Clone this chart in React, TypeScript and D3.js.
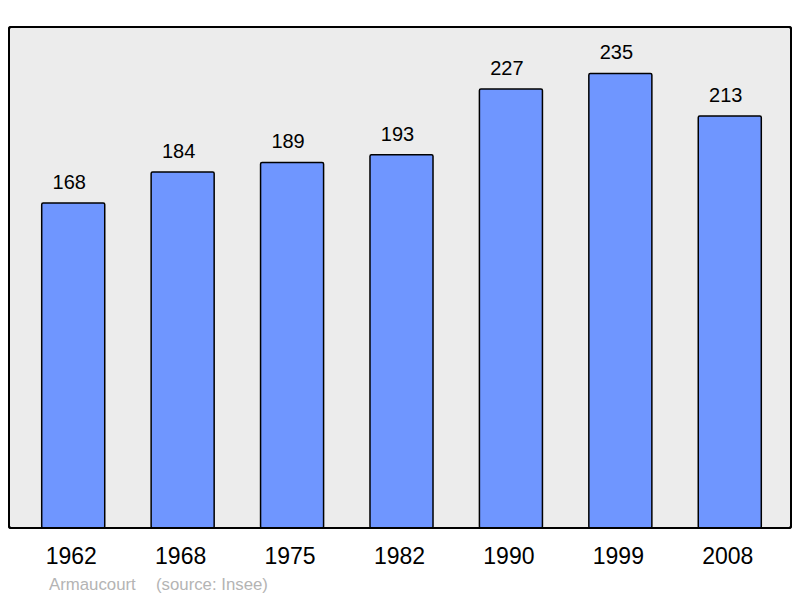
import React from "react";
import * as d3 from "d3";

const years = ["1962", "1968", "1975", "1982", "1990", "1999", "2008"];
const population = [168, 184, 189, 193, 227, 235, 213];
const townName = "Armaucourt";
const sourceText = "(source: Insee)";

const W = 800;
const H = 598;
const plot = { left: 9, top: 27, right: 791, bottom: 528 };

export default function App() {
  const x = d3
    .scaleBand<string>()
    .domain(years)
    .range([19, 784])
    .paddingInner(0.424)
    .paddingOuter(0.2075);
  const y = d3.scaleLinear().domain([0, 259]).range([plot.bottom, plot.top]);
  const font = "'Liberation Sans', Arial, sans-serif";

  return (
    <svg
      width={W}
      height={H}
      style={{ position: "absolute", left: 0, top: 0 }}
      fontFamily={font}
    >
      <rect x={0} y={0} width={W} height={H} fill="#ffffff" />
      <rect
        x={plot.left}
        y={plot.top}
        width={plot.right - plot.left}
        height={plot.bottom - plot.top}
        fill="#ececec"
        stroke="#000"
        strokeWidth={2}
        rx={2}
      />
      {years.map((yr, i) => {
        const bx = x(yr)!;
        const by = y(population[i]);
        const cx = bx + x.bandwidth() / 2;
        return (
          <g key={yr}>
            <rect
              x={bx}
              y={by}
              width={x.bandwidth()}
              height={plot.bottom - by}
              fill="#6f96ff"
              stroke="#000"
              strokeWidth={1.5}
              rx={1.5}
            />
            <text
              x={cx - 4}
              y={by - 14}
              textAnchor="middle"
              fontSize={20}
              fill="#000"
            >
              {population[i]}
            </text>
            <text
              x={cx - 2}
              y={564}
              textAnchor="middle"
              fontSize={23}
              fill="#000"
            >
              {yr}
            </text>
          </g>
        );
      })}
      <rect
        x={plot.left}
        y={plot.top}
        width={plot.right - plot.left}
        height={plot.bottom - plot.top}
        fill="none"
        stroke="#000"
        strokeWidth={2}
        rx={2}
      />
      <text x={49} y={590} fontSize={16.8} fill="#b4b4b4">
        {townName}
      </text>
      <text x={156} y={590} fontSize={16.8} fill="#b4b4b4">
        {sourceText}
      </text>
    </svg>
  );
}
